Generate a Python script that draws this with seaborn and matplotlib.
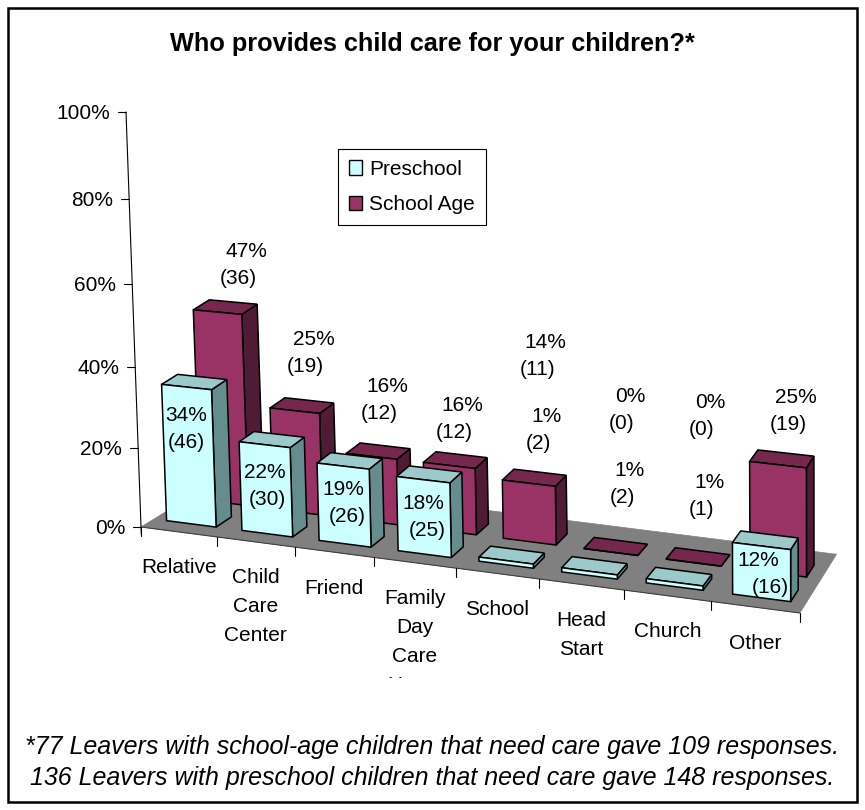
import numpy as np
import pandas as pd
import matplotlib
matplotlib.use("Agg")
import matplotlib.pyplot as plt
import matplotlib.transforms as mtransforms
from matplotlib.patches import Polygon, Rectangle, Patch
import seaborn as sns

# ---------------- data ----------------
categories = ["Relative", "Child Care Center", "Friend", "Family Day Care Home",
              "School", "Head Start", "Church", "Other"]
category_labels = ["Relative", "Child\nCare\nCenter", "Friend", "Family\nDay\nCare\nHome",
                   "School", "Head\nStart", "Church", "Other"]
series_names = ["Preschool", "School Age"]
preschool_pct = [34, 22, 19, 18, 1, 1, 1, 12]
preschool_n = [46, 30, 26, 25, 2, 2, 1, 16]
school_age_pct = [47, 25, 16, 16, 14, 0, 0, 25]
school_age_n = [36, 19, 12, 12, 11, 0, 0, 19]
y_ticks = [0, 20, 40, 60, 80, 100]
y_tick_labels = ["0%", "20%", "40%", "60%", "80%", "100%"]
title = "Who provides child care for your children?*"
footnote = ["*77 Leavers with school-age children that need care gave 109 responses.",
            "136 Leavers with preschool children that need care gave 148 responses."]

# ---------------- style ----------------
sns.set_theme(style="white")
plt.rcParams["font.family"] = ["Liberation Sans", "DejaVu Sans"]
plt.rcParams["text.color"] = "black"

W, H = 865, 810
fig = plt.figure(figsize=(W / 100, H / 100), dpi=100)
ax = fig.add_axes([0, 0, 1, 1])

# 3D-like projection of the chart box onto the page (pixel units)
def proj(t, f, z):
    """t: position along category axis (0..8), f: depth (0 front .. 1 back), z: value fraction"""
    t = np.asarray(t, float)
    xf = 141 + 75 * t + 0.92 * t ** 2
    yf = 527 + 0.1305 * (xf - 141)
    dx = 81 + (36.7 - 81) * t / 8
    dy = -50 + (-58.7 + 50) * t / 8
    zp = (392 * z + 23 * z ** 2) * (1 + 0.1 * t / 8)
    e = -15 * (1 - t / 8)
    return xf + f * dx + e * z, yf + f * dy - zp


class FaceProj(mtransforms.Transform):
    input_dims = 2
    output_dims = 2
    is_separable = False
    has_inverse = False

    def __init__(self, f):
        super().__init__()
        self.f = f

    def transform_non_affine(self, values):
        v = np.asarray(values, float)
        x, y = proj(v[:, 0] + 0.5, self.f, v[:, 1] / 100.0)
        return np.column_stack([x, y])


ROW_FRONT = {"Preschool": 0.16, "School Age": 0.58}
BAR_DEPTH = 0.2
BAR_WIDTH = 0.66
face_colors = {"Preschool": ("#CCFFFF", "#9CC9C9", "#658D8D"),
               "School Age": ("#993366", "#75274E", "#501B34")}
label_offsets = {
    "Preschool": [(0, 40), (1.5, 39), (2, 35), (2, 35), (36, -133), (36.6, -89), (31.4, -88), (2.5, 26)],
    "School Age": [(24.5, -49), (15, -60), (11.5, -58), (9, -48), (13, -129), (15.4, -144), (12.5, -149), (14, -56)],
}
label_skew = {
    "Preschool": [0, -1, -2, -2, 4, 4, 4, -6],
    "School Age": [4, 4, 4, 4, 4, 4, 4, 4],
}

df = pd.DataFrame({
    "category": categories * 2,
    "series": ["Preschool"] * len(categories) + ["School Age"] * len(categories),
    "pct": preschool_pct + school_age_pct,
    "n": preschool_n + school_age_n,
})

# floor
floor = [proj(0, 0, 0), proj(8, 0, 0), proj(8, 1, 0), proj(0, 1, 0)]
ax.add_patch(Polygon(floor, closed=True, facecolor="#808080", edgecolor="#808080", lw=0.5, zorder=1))

label_specs = []
for si, name in enumerate(["School Age", "Preschool"]):
    sub = df[df["series"] == name]
    n0 = len(ax.patches)
    sns.barplot(data=sub, x="category", y="pct", order=categories, color=face_colors[name][0],
                saturation=1, width=BAR_WIDTH, errorbar=None, edgecolor="black",
                linewidth=1.1, ax=ax)
    bars = list(ax.patches)[n0:]
    f0 = ROW_FRONT[name]
    f1 = f0 + BAR_DEPTH
    tr = FaceProj(f0) + ax.transData
    base = 2 + si
    counts = sub["n"].tolist()
    for i, bar in enumerate(bars):
        x0, w, h = bar.get_x(), bar.get_width(), bar.get_height()
        t0, t1, z = x0 + 0.5, x0 + w + 0.5, h / 100.0
        bar.set_transform(tr)
        bar.set_zorder(base + i * 0.01 + 0.006)
        bar.set_joinstyle("miter")
        side = [proj(t1, f0, 0), proj(t1, f1, 0), proj(t1, f1, z), proj(t1, f0, z)]
        top = [proj(t0, f0, z), proj(t1, f0, z), proj(t1, f1, z), proj(t0, f1, z)]
        ax.add_patch(Polygon(side, closed=True, facecolor=face_colors[name][2], edgecolor="black",
                             lw=1.1, zorder=base + i * 0.01))
        ax.add_patch(Polygon(top, closed=True, facecolor=face_colors[name][1], edgecolor="black",
                             lw=1.1, zorder=base + i * 0.01 + 0.003))
        ax_, ay_ = proj((t0 + t1) / 2, f0, z)
        dx, dy = label_offsets[name][i]
        label_specs.append((ax_ + dx, ay_ + dy, f"{int(h)}%", f"({counts[i]})", label_skew[name][i]))

# data labels
FS = 15
cap = 0.358 * FS * 100 / 72
for cx, cy, l1, l2, s in label_specs:
    ax.text(cx + s, cy - 13.5 + cap, l1, ha="center", va="baseline", fontsize=FS, zorder=10)
    ax.text(cx - s, cy + 13.5 + cap, l2, ha="center", va="baseline", fontsize=FS, zorder=10)

# value axis
xa0, ya0 = proj(0, 0, -0.018)
xa1, ya1 = proj(0, 0, 1.0)
ax.plot([xa0, xa1], [ya0, ya1], color="black", lw=0.8, zorder=5)
for v, lab in zip(y_ticks, y_tick_labels):
    x, y = proj(0, 0, v / 100.0)
    ax.plot([x - 8, x], [y, y], color="black", lw=0.8, zorder=5)
    ax.text(x - 16, y + cap, lab, ha="right", va="baseline", fontsize=FS, zorder=10)

# category axis
xc0, yc0 = proj(0, 0, 0)
xc1, yc1 = proj(8, 0, 0)
ax.plot([xc0, xc1], [yc0, yc1], color="#404040", lw=0.8, zorder=1.5)
for k in range(len(categories) + 1):
    x, y = proj(k, 0, 0)
    ax.plot([x, x], [y, y + 9], color="black", lw=0.8, zorder=1.5)

clip_box = mtransforms.TransformedBbox(mtransforms.Bbox([[0, 0], [W, 678]]), ax.transData)
for i, lab in enumerate(category_labels):
    x, y = proj(i + 0.5, 0, 0)
    for k, line in enumerate(lab.split("\n")):
        t = ax.text(x, y + 34 + 29 * k + cap, line, ha="center", va="baseline", fontsize=FS,
                    zorder=10, clip_on=True)
        t.set_clip_box(clip_box)

# legend
handles = [Patch(facecolor=face_colors[n][0], edgecolor="black", lw=1.0) for n in series_names]
leg = ax.legend(handles, series_names, loc="upper left",
                bbox_to_anchor=(337.7 / W, 1 - 149 / H), bbox_transform=fig.transFigure,
                frameon=True, fancybox=False, edgecolor="black", framealpha=1, fontsize=FS,
                handlelength=0.67, handleheight=0.67, handletextpad=0.32, labelspacing=0.8,
                borderpad=0.52, borderaxespad=0)
leg.get_frame().set_linewidth(0.8)
leg.set_zorder(12)

# title and footnote
ax.text(W / 2, 42 + 0.358 * 18 * 100 / 72, title, ha="center", va="baseline",
        fontsize=18.2, fontweight="bold", zorder=10)
for k, line in enumerate(footnote):
    ax.text(W / 2, 745 + 31 * k + 0.358 * 18 * 100 / 72, line, ha="center", va="baseline",
            fontsize=18, style="italic", zorder=10)

# outer border
ax.add_patch(Rectangle((8, 8), W - 16, H - 16, fill=False, edgecolor="black", lw=1.8, zorder=20))

ax.set_xlim(0, W)
ax.set_ylim(H, 0)
ax.axis("off")
fig.savefig("out.png", dpi=100)
